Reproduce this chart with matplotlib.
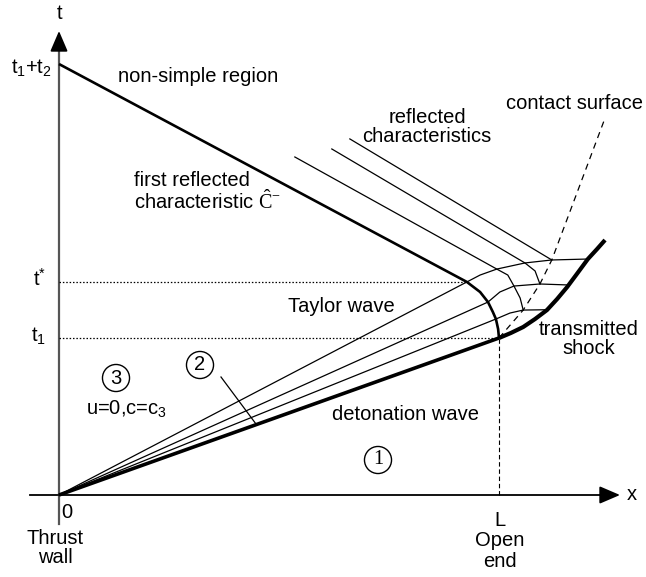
import matplotlib
matplotlib.use("Agg")
import matplotlib.pyplot as plt

plt.rcParams['font.family'] = ['Liberation Sans', 'DejaVu Sans']
plt.rcParams['mathtext.fontset'] = 'custom'
plt.rcParams['mathtext.rm'] = 'Liberation Serif'

# x in units of L, t in units of t1
t_star = 1.357
t1_t2 = 2.745

# detonation wave (0,0) -> (L, t1)
det_x = [0.0, 1.0]
det_t = [0.0, 1.0]

# Taylor wave characteristics from the origin, bending after the first reflected characteristic
fan1_x = [0.0, 0.993, 1.025, 1.055, 1.109]
fan1_t = [0.0, 1.121, 1.159, 1.178, 1.180]
fan2_x = [0.0, 0.975, 1.002, 1.034, 1.093, 1.155]
fan2_t = [0.0, 1.229, 1.293, 1.331, 1.344, 1.338]
fan3_x = [0.0, 0.927, 0.957, 0.995, 1.059, 1.120, 1.202]
fan3_t = [0.0, 1.357, 1.401, 1.439, 1.478, 1.497, 1.503]

# first reflected characteristic C^-
first_x = [0.0, 0.927, 0.957, 0.975, 0.986, 0.993, 0.998, 1.0]
first_t = [t1_t2, 1.357, 1.293, 1.229, 1.166, 1.121, 1.057, 1.0]

# reflected characteristics
refl1_x = [0.536, 0.995, 1.020, 1.034, 1.048, 1.055]
refl1_t = [2.153, 1.439, 1.401, 1.331, 1.255, 1.178]
refl2_x = [0.620, 1.059, 1.082, 1.093]
refl2_t = [2.204, 1.478, 1.427, 1.344]
refl3_x = [0.661, 1.120]
refl3_t = [2.268, 1.497]

# contact surface and transmitted shock
contact_x = [1.0, 1.055, 1.093, 1.120, 1.241]
contact_t = [1.0, 1.178, 1.344, 1.497, 2.401]
shock_x = [1.0, 1.027, 1.055, 1.082, 1.109, 1.132, 1.155, 1.177, 1.202, 1.223, 1.241]
shock_t = [1.0, 1.032, 1.070, 1.121, 1.178, 1.248, 1.325, 1.408, 1.503, 1.567, 1.624]

# pixel layout of the sketch
W, H = 646, 577
X0, Y0, SX, ST = 59, 495, 440, 157


def u(px, py):
    """pixel position -> diagram units"""
    return (px - X0) / SX, (Y0 - py) / ST


fig = plt.figure(figsize=(W / 100, H / 100), dpi=100)
ax = fig.add_axes([0, 0, 1, 1])
ax.set_xlim(u(0, 0)[0], u(W, 0)[0])
ax.set_ylim(u(0, H)[1], u(0, 0)[1])
ax.axis('off')

# axes with arrows
ax.plot(*zip(u(30, 495), u(610, 495)), color='k', lw=1.3)
ax.annotate('', xy=u(620, 495), xytext=u(600, 495),
            arrowprops=dict(arrowstyle='-|>,head_length=0.7,head_width=0.3',
                            color='k', lw=1.3, mutation_scale=18, shrinkA=0, shrinkB=0))
ax.plot(*zip(u(59, 524), u(59, 45)), color='#555555', lw=1.6)
ax.annotate('', xy=u(59, 31), xytext=u(59, 50),
            arrowprops=dict(arrowstyle='-|>,head_length=0.7,head_width=0.3',
                            color='k', lw=1.3, mutation_scale=18, shrinkA=0, shrinkB=0))

# guide lines
ax.plot([0, 1], [1, 1], color='k', lw=0.9, ls=(0, (1.2, 1.5)))
ax.plot([0, first_x[1]], [t_star, t_star], color='k', lw=0.9, ls=(0, (1.2, 1.5)))
ax.plot([1, 1], [0, 1], color='k', lw=0.8, ls=(0, (4, 2.5)))

# characteristics
for xs, ts in [(fan1_x, fan1_t), (fan2_x, fan2_t), (fan3_x, fan3_t),
               (refl1_x, refl1_t), (refl2_x, refl2_t), (refl3_x, refl3_t)]:
    ax.plot(xs, ts, color='k', lw=0.9)
ax.plot(first_x, first_t, color='k', lw=1.9, solid_capstyle='butt')
ax.plot(det_x, det_t, color='k', lw=2.6, solid_capstyle='butt')
ax.plot(contact_x, contact_t, color='k', lw=0.9, ls=(0, (5, 4)))
ax.plot(shock_x, shock_t, color='k', lw=3.0, solid_capstyle='butt')

fs = 14.5
ax.text(*u(60, 14), 't', fontsize=fs, ha='center', va='center')
ax.text(*u(632, 494), 'x', fontsize=fs, ha='center', va='center')
ax.text(*u(52, 68), r'$\mathregular{t_1{+}t_2}$', fontsize=fs, ha='right', va='center')
ax.text(*u(46, 279), r'$\mathregular{t^{*}}$', fontsize=fs, ha='right', va='center')
ax.text(*u(46, 336), r'$\mathregular{t_1}$', fontsize=fs, ha='right', va='center')
ax.text(*u(118, 77), 'non-simple region', fontsize=fs, ha='left', va='center')
ax.text(*u(427, 127), 'reflected\ncharacteristics', fontsize=fs, ha='center',
        va='center', linespacing=1.05)
ax.text(*u(506, 104), 'contact surface', fontsize=fs, ha='left', va='center')
ax.text(*u(134, 192), 'first reflected\ncharacteristic $\\hat{\\mathrm{C}}^{-}$',
        fontsize=fs, ha='left', va='center', linespacing=1.0)
ax.text(*u(288, 307), 'Taylor wave', fontsize=fs, ha='left', va='center')
ax.text(*u(589, 339), 'transmitted\nshock', fontsize=fs, ha='center',
        va='center', linespacing=1.0)
ax.text(*u(332, 415), 'detonation wave', fontsize=fs, ha='left', va='center')
ax.text(*u(126, 409), r'u=0,c=c$\mathregular{_3}$', fontsize=fs, ha='center', va='center')
ax.text(*u(61, 512), '0', fontsize=fs, ha='left', va='center')
ax.text(*u(55, 548), 'Thrust\nwall', fontsize=fs, ha='center', va='center', linespacing=1.05)
ax.text(*u(500, 541), 'L\nOpen\nend', fontsize=fs, ha='center', va='center', linespacing=1.1)

circ = dict(boxstyle='circle,pad=0.2', fc='white', ec='k', lw=1.0)
ax.text(*u(116, 378), '3', fontsize=fs, ha='center', va='center', bbox=circ)
ax.text(*u(200, 365), '2', fontsize=fs, ha='center', va='center', bbox=circ)
ax.text(*u(378, 460), '1', fontsize=fs, ha='center', va='center', bbox=circ,
        family='Liberation Serif')
ax.plot(*zip(u(221, 377), u(256, 424)), color='k', lw=0.9)

fig.savefig('out.png', dpi=100)
